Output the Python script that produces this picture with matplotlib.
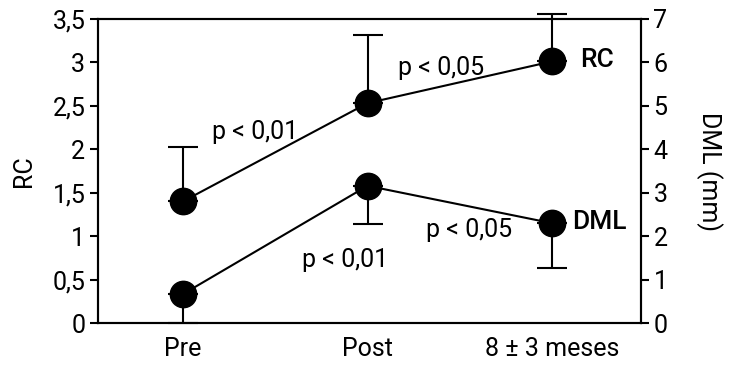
import matplotlib.pyplot as plt
import numpy as np

plt.rcParams['font.family'] = ['Roboto', 'Liberation Sans', 'DejaVu Sans']

# datos
etapas = ["Pre", "Post", "8 \u00b1 3 meses"]
rc = [1.40, 2.53, 3.01]
rc_err_sup = [0.63, 0.78, 0.54]
dml = [0.67, 3.16, 2.30]        # mm
dml_err_inf = [0.67, 0.88, 1.04]
p_rc = ["p < 0,01", "p < 0,05"]
p_dml = ["p < 0,01", "p < 0,05"]

fs = 18

fig = plt.figure(figsize=(7.3, 3.67), dpi=100)
ax = fig.add_axes([0.134, 0.119, 0.744, 0.830])
ax2 = ax.twinx()

x = np.arange(len(etapas))
estilo = dict(color='black', marker='o', markersize=19, lw=1.5,
              ecolor='black', elinewidth=1.5, capsize=11, capthick=1.5)

# RC en eje izquierdo, barra de error solo hacia arriba
ax.errorbar(x, rc, yerr=[np.zeros(3), rc_err_sup], clip_on=False, **estilo)
# DML en eje derecho, barra de error solo hacia abajo
ax2.errorbar(x, dml, yerr=[dml_err_inf, np.zeros(3)], clip_on=False, **estilo)

ax.set_xlim(-0.46, 2.48)
ax.set_ylim(0, 3.5)
ax2.set_ylim(0, 7)

ax.set_yticks(np.arange(0, 3.51, 0.5))
ax.set_yticklabels(["0", "0,5", "1", "1,5", "2", "2,5", "3", "3,5"])
ax2.set_yticks(range(0, 8))
ax.set_xticks(x)
ax.set_xticklabels(etapas)

for a in (ax, ax2):
    for s in a.spines.values():
        s.set_linewidth(1.5)
    a.tick_params(axis='y', direction='out', length=6, width=1.5, labelsize=fs, pad=3)
    a.tick_params(axis='x', length=0, labelsize=fs, pad=10)

ax.set_ylabel("RC", fontsize=fs, labelpad=12)
ax2.set_ylabel("DML (mm)", fontsize=fs, rotation=270, labelpad=40)

# anotaciones de significacion
ax.text(0.39, 2.2, p_rc[0], fontsize=fs, ha='center', va='center')
ax.text(1.40, 2.93, p_rc[1], fontsize=fs, ha='center', va='center')
ax.text(0.88, 0.73, p_dml[0], fontsize=fs, ha='center', va='center')
ax.text(1.55, 1.07, p_dml[1], fontsize=fs, ha='center', va='center')

ax.text(2.15, 3.03, "RC", fontsize=19, fontweight='medium', ha='left', va='center')
ax.text(2.11, 1.17, "DML", fontsize=19, fontweight='medium', ha='left', va='center')

fig.savefig("out.png", dpi=100)
